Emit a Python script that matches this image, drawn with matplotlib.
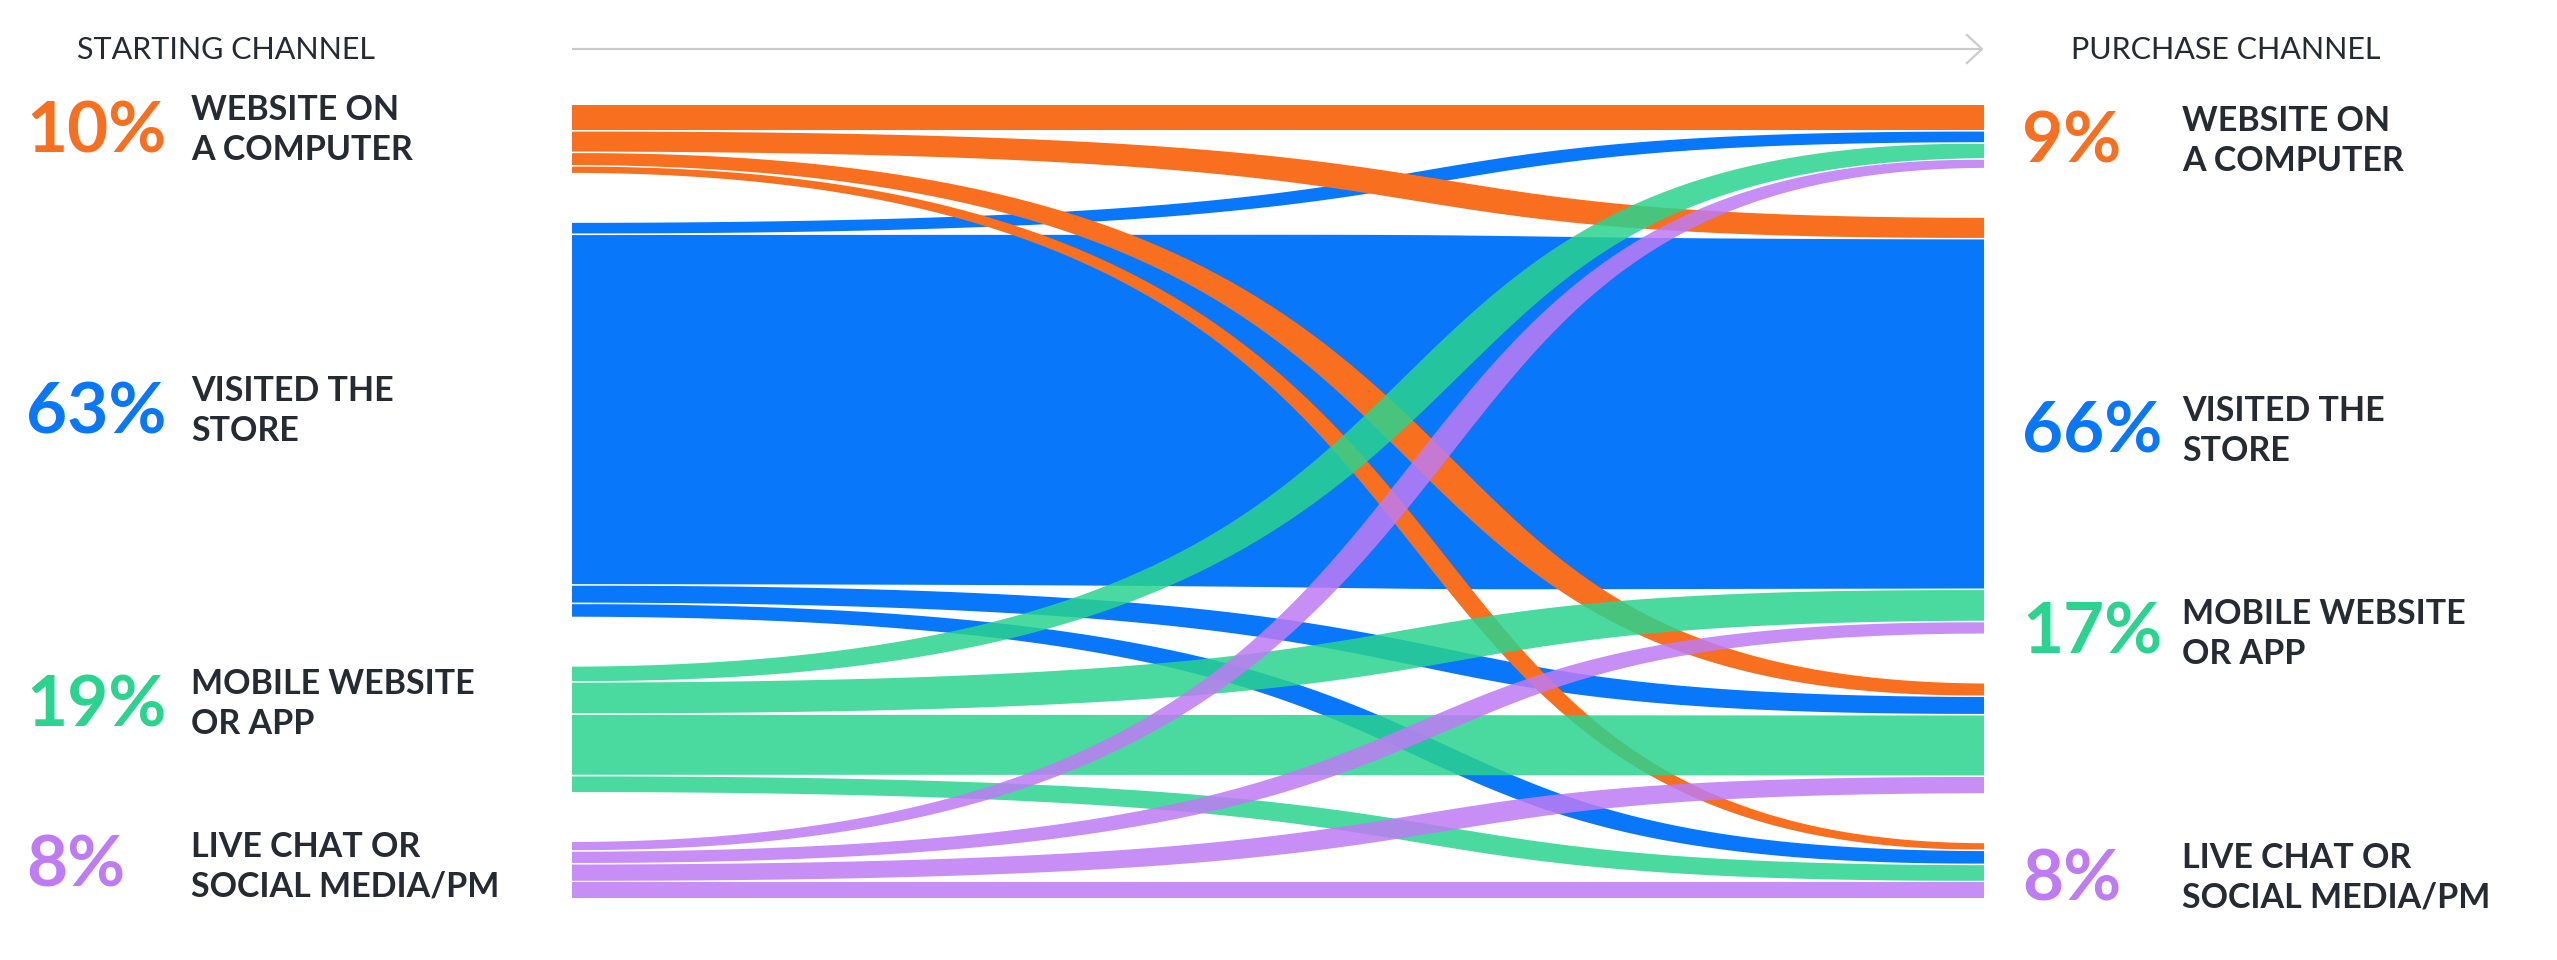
import numpy as np
import matplotlib.pyplot as plt
from matplotlib.patches import Polygon

plt.rcParams['font.family'] = ['Lato', 'DejaVu Sans']

channels = ['WEBSITE ON\nA COMPUTER', 'VISITED THE\nSTORE',
            'MOBILE WEBSITE\nOR APP', 'LIVE CHAT OR\nSOCIAL MEDIA/PM']
start_pct = ['10%', '63%', '19%', '8%']
end_pct = ['9%', '66%', '17%', '8%']

# share of shoppers (% points), rows = starting channel, cols = purchase channel
flows = np.array([
    [4.0, 3.2, 1.9, 1.0],
    [1.7, 55.9, 2.7, 2.0],
    [2.3, 4.9, 9.6, 2.5],
    [1.3, 1.8, 2.6, 2.5],
])

colors = ['#F76F1F', '#0877FA', '#2AD48E', '#BE7BF4']
alphas = [1.0, 1.0, 0.85, 0.85]
text_color = '#262a33'

# layout (pixels)
W, H = 2557, 960
x0, x1 = 572, 1984
y_top, y_bot = 105, 898
sep, gap = 1.6, 50
n = len(channels)
scale = (y_bot - y_top - (n - 1) * gap - n * (n - 1) * sep) / flows.sum()

left_y = np.zeros((n, n))
y = y_top
for i in range(n):
    for j in range(n):
        left_y[i, j] = y
        y += flows[i, j] * scale + sep
    y += gap - sep

right_y = np.zeros((n, n))
y = y_top
for j in range(n):
    for i in range(n):
        right_y[i, j] = y
        y += flows[i, j] * scale + sep
    y += gap - sep


def bezier(p0, p1, p2, p3, t):
    return ((1 - t) ** 3 * p0 + 3 * (1 - t) ** 2 * t * p1
            + 3 * (1 - t) * t ** 2 * p2 + t ** 3 * p3)


def dbezier(p0, p1, p2, p3, t):
    return 3 * ((1 - t) ** 2 * (p1 - p0) + 2 * (1 - t) * t * (p2 - p1)
                + t ** 2 * (p3 - p2))


fig = plt.figure(figsize=(W / 100, H / 100), dpi=100)
ax = fig.add_axes([0, 0, 1, 1])
ax.set_xlim(0, W)
ax.set_ylim(H, 0)
ax.axis('off')

# ribbons: flat near the left, turning past the middle, widening where steep
t = np.linspace(0, 1, 500)
dx = x1 - x0
cx = (x0, x0 + 0.72 * dx, x0 + 0.5 * dx, x1)
bx = bezier(*cx, t)
tx = dbezier(*cx, t)
k = 1.65
for i in [1, 0, 2, 3]:
    for j in range(n):
        h = flows[i, j] * scale
        ya, yb = left_y[i, j] + h / 2, right_y[i, j] + h / 2
        cy = (ya, ya, yb, yb)
        by = bezier(*cy, t)
        ty = dbezier(*cy, t)
        norm = np.hypot(tx, ty)
        nx, ny = -ty / norm, tx / norm
        w = h * (1 + k * np.abs(ty / tx)) / 2
        upper = np.column_stack([bx - nx * w, by - ny * w])
        lower = np.column_stack([bx + nx * w, by + ny * w])
        pts = np.vstack([upper, lower[::-1]])
        ax.add_patch(Polygon(pts, closed=True, facecolor=colors[i],
                             alpha=alphas[i], edgecolor='none'))

# header arrow
ax.plot([x0, 1982], [49, 49], color='#cbcbcb', lw=1.6, solid_capstyle='butt')
ax.plot([1967, 1982, 1967], [35, 49, 63], color='#cbcbcb', lw=1.6)
ax.text(77, 50, 'STARTING CHANNEL', fontsize=22, fontweight='normal',
        color=text_color, va='center', ha='left')
ax.text(2071, 50, 'PURCHASE CHANNEL', fontsize=22, fontweight='normal',
        color=text_color, va='center', ha='left')

left_pct_y = [132, 413, 706, 866]
left_lab_y = [130, 411, 704, 867]
right_pct_y = [142, 432, 633, 880]
right_lab_y = [141, 431, 634, 878]

for m in range(n):
    ax.text(26, left_pct_y[m], start_pct[m], fontsize=51, fontweight='bold',
            color=colors[m], va='center', ha='left')
    ax.text(191, left_lab_y[m], channels[m], fontsize=24.5, fontweight='bold',
            color=text_color, va='center', ha='left', linespacing=1.3)
    ax.text(2022, right_pct_y[m], end_pct[m], fontsize=51, fontweight='bold',
            color=colors[m], va='center', ha='left')
    ax.text(2182, right_lab_y[m], channels[m], fontsize=24.5, fontweight='bold',
            color=text_color, va='center', ha='left', linespacing=1.3)

fig.savefig('out.png', dpi=100)
